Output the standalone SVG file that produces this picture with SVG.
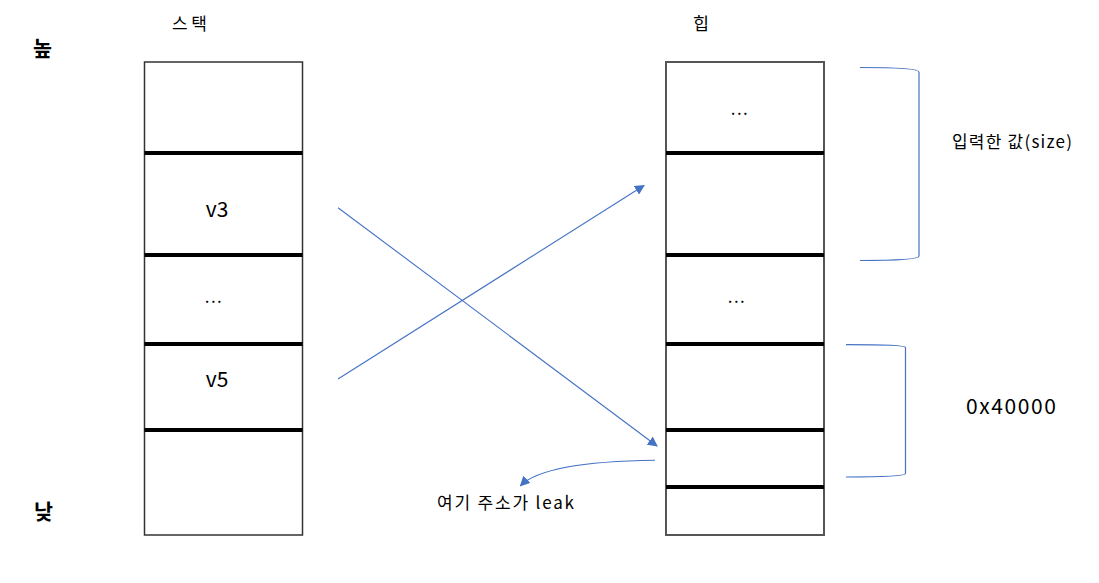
<svg xmlns="http://www.w3.org/2000/svg" width="1099" height="583" viewBox="0 0 1099 583">
<style>
text{font-family:"Noto Sans CJK KR","Noto Sans",sans-serif;fill:#000}
.box{fill:#fff;stroke:#333;stroke-width:1.5}
.sep{stroke:#000;stroke-width:4}
.conn{fill:none;stroke:#4472C4;stroke-width:1.1}
.brace{fill:none;stroke:#4472C4;stroke-width:1.2}
.t16{font-size:17px}
.t20{font-size:21px}
.dots{font-size:17px;letter-spacing:1.5px}
</style>
<defs>
<marker id="ah" viewBox="0 0 10 10" refX="9" refY="5" markerWidth="10" markerHeight="10" markerUnits="userSpaceOnUse" orient="auto">
<path d="M0,0 L10,5 L0,10 z" fill="#4472C4"/>
</marker>
</defs>
<rect width="1099" height="583" fill="#fff"/>
<g id="labels">
<text x="33" y="56" font-size="21" font-weight="bold" textLength="19" lengthAdjust="spacingAndGlyphs">높</text>
<text x="34" y="519" font-size="21" font-weight="bold" textLength="19" lengthAdjust="spacingAndGlyphs">낮</text>
<text x="172" y="30" class="t16" textLength="35">스택</text>
<text x="693" y="30" class="t16" textLength="16" lengthAdjust="spacingAndGlyphs">힙</text>
</g>
<g id="stack">
<rect class="box" x="144.5" y="62" width="158" height="473"/>
<line class="sep" x1="144.5" y1="153" x2="302.5" y2="153"/>
<line class="sep" x1="144.5" y1="255" x2="302.5" y2="255"/>
<line class="sep" x1="144.5" y1="344" x2="302.5" y2="344"/>
<line class="sep" x1="144.5" y1="430" x2="302.5" y2="430"/>
<text x="217" y="217" class="t20" text-anchor="middle">v3</text>
<text x="214" y="303" class="dots" text-anchor="middle">...</text>
<text x="217" y="387" class="t20" text-anchor="middle">v5</text>
</g>
<g id="heap">
<rect class="box" x="666" y="62" width="158" height="473" style="stroke:#555;stroke-width:2"/>
<line class="sep" x1="666" y1="153" x2="824" y2="153"/>
<line class="sep" x1="666" y1="255" x2="824" y2="255"/>
<line class="sep" x1="666" y1="344" x2="824" y2="344"/>
<line class="sep" x1="666" y1="430" x2="824" y2="430"/>
<line class="sep" x1="666" y1="487" x2="824" y2="487"/>
<text x="740" y="115" class="dots" text-anchor="middle">...</text>
<text x="737" y="303" class="dots" text-anchor="middle">...</text>
</g>
<g id="brace-size">
<path class="brace" d="M860,67.5 C895,67.5 919,69 919,72 L919,256 C919,259 895,260.5 860,260.5"/>
<text x="952" y="148" class="t16" textLength="120">입력한 값(size)</text>
</g>
<g id="brace-0x40000">
<path class="brace" d="M846,344.7 C880,344.7 905.5,345.5 905.5,347.5 L905.5,473.5 C905.5,476 880,477 846,477"/>
<text x="966" y="414" class="t20" textLength="90">0x40000</text>
</g>
<g id="leak-label">
<text x="437" y="509" class="t16" textLength="137">여기 주소가 leak</text>
</g>
<g id="connectors">
<line class="conn" x1="338" y1="379" x2="644" y2="185.5" marker-end="url(#ah)"/>
<line class="conn" x1="338" y1="207.7" x2="657" y2="446" marker-end="url(#ah)"/>
<path class="conn" d="M655,460.3 C600,461 540,466 520.5,485.7" marker-end="url(#ah)"/>
</g>
</svg>
